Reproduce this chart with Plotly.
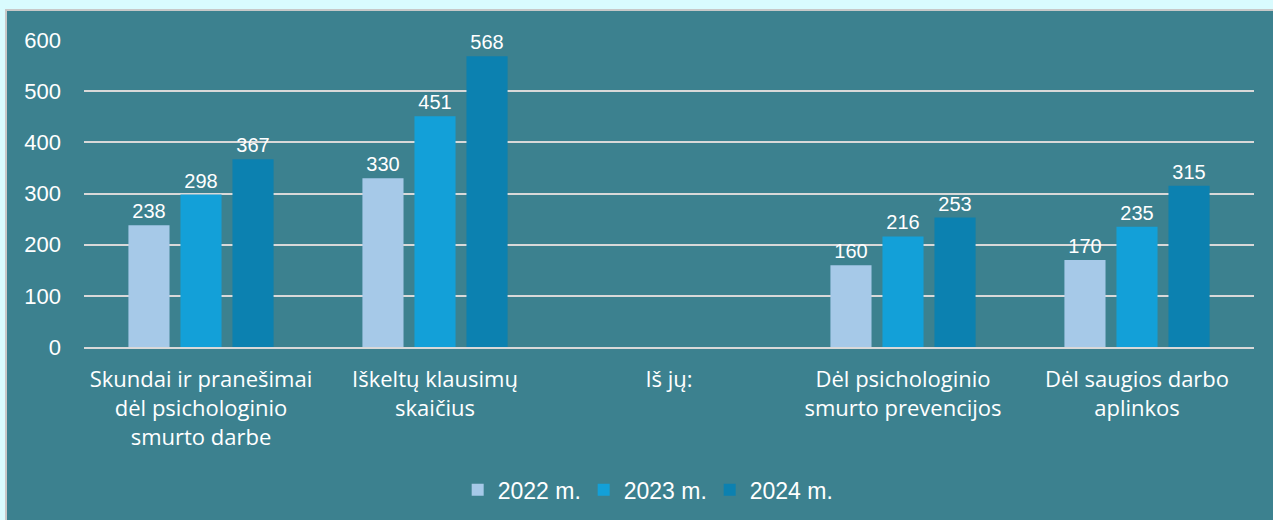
import plotly.graph_objects as go

categories = [
    "Skundai ir pranešimai<br>dėl psichologinio<br>smurto darbe",
    "Iškeltų klausimų<br>skaičius",
    "Iš jų:",
    "Dėl psichologinio<br>smurto prevencijos",
    "Dėl saugios darbo<br>aplinkos",
]
years = ["2022 m.", "2023 m.", "2024 m."]
v2022 = [238, 330, None, 160, 170]
v2023 = [298, 451, None, 216, 235]
v2024 = [367, 568, None, 253, 315]
colors = ["#a6c9e8", "#13a0d8", "#0c81b0"]

NUM_FONT = "Liberation Sans"
CAT_FONT = "Open Sans"
fig = go.Figure()
for name, vals, col in zip(years, [v2022, v2023, v2024], colors):
    fig.add_trace(go.Bar(
        x=categories, y=vals, name=name, marker_color=col, marker_line_width=0,
        text=[v if v is not None else "" for v in vals], textposition="outside",
        textfont=dict(color="white", size=20, family=NUM_FONT), cliponaxis=False,
    ))

# teal chart panel with grey border
fig.add_shape(type="rect", xref="paper", yref="paper", layer="below",
              x0=(6 - 84) / 1170, x1=(1290 - 84) / 1170,
              y0=(347 - 540) / 307, y1=(347 - 10) / 307,
              fillcolor="#3c818f", line=dict(color="#c8c8c8", width=2))

fig.update_layout(
    width=1273, height=520,
    margin=dict(l=84, r=19, t=40, b=173),
    paper_bgcolor="#d9fbfe", plot_bgcolor="rgba(0,0,0,0)",
    barmode="group", bargap=0.333, bargroupgap=0.21,
    font=dict(family=NUM_FONT, size=20, color="white"),
    showlegend=True,
    legend=dict(orientation="h", xref="container", yref="container", x=0.508, y=0.058,
                xanchor="center", yanchor="middle", font=dict(size=23, color="white", family=NUM_FONT),
                bgcolor="rgba(0,0,0,0)", entrywidth=81, entrywidthmode="pixels", itemwidth=30),
    hovermode=False,
)
fig.update_yaxes(range=[0, 600], dtick=100, showgrid=True, gridcolor="#d9d9d9", gridwidth=1.5,
                 zeroline=False, showline=False, ticks="", ticklabelstandoff=22,
                 tickfont=dict(size=22, color="white", family=NUM_FONT))
fig.update_xaxes(showline=True, linecolor="#d9d9d9", linewidth=2, ticks="", ticklabelstandoff=12,
                 tickfont=dict(size=22, color="white", family=CAT_FONT), tickangle=0)

fig.write_html("out.html", config={"displayModeBar": False},
               post_script="document.body.style.margin='0';document.body.style.background='#d9fbfe';")
